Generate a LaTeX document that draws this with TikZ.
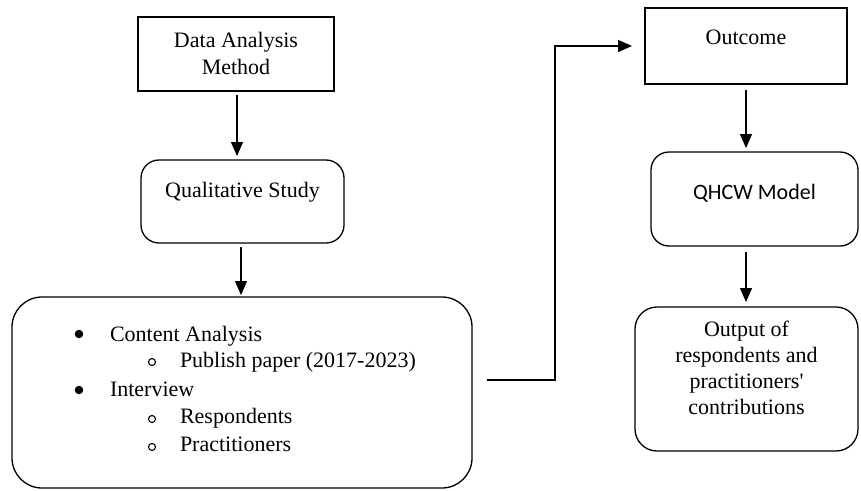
\documentclass[tikz,border=0pt]{standalone}
\usepackage{fontspec}
\setmainfont{Liberation Serif}
\newfontfamily\calfont{Carlito}
\usetikzlibrary{arrows.meta}
\begin{document}
\begin{tikzpicture}[x=1pt,y=-1pt,
  every node/.style={inner sep=0pt,outer sep=0pt},
  sqbox/.style={draw,line width=1.3pt,rectangle},
  rbox/.style={draw,line width=1.3pt,rectangle,rounded corners=18pt},
  txt/.style={font=\fontsize{22}{27}\selectfont,align=center},
  ltxt/.style={font=\fontsize{22}{27}\selectfont,anchor=base west},
  bul/.style={circle,fill=black,minimum size=8.5pt},
  hbul/.style={circle,draw,line width=1.1pt,minimum size=7pt},
  conn/.style={line width=1.3pt,-{Triangle[length=14pt,width=12pt]}}]
\useasboundingbox (0,0) rectangle (861,490);
% boxes
\node[sqbox,minimum width=196pt,minimum height=74pt] (dam) at (236,54) {};
\node[rbox,minimum width=203pt,minimum height=83pt] (qs) at (242.5,201.5) {};
\node[rbox,rounded corners=30pt,minimum width=460pt,minimum height=191pt] (big) at (242,392.5) {};
\node[sqbox,minimum width=202pt,minimum height=76pt] (oc) at (746,46) {};
\node[rbox,minimum width=207pt,minimum height=94pt] (qh) at (754.5,199) {};
\node[rbox,rounded corners=22pt,minimum width=223pt,minimum height=144pt] (out) at (746.5,379) {};
% texts
\node[txt] (damt) at (236,53) {Data Analysis\\Method};
\node[txt] (qst) at (242.5,192) {Qualitative Study};
\node[txt] (oct) at (746,37) {Outcome};
\node[txt,font=\fontsize{22}{27}\calfont] (qht) at (754.5,193) {QHCW Model};
\node[txt,font=\fontsize{22}{26}\selectfont] (outt) at (746.5,368) {Output of\\respondents and\\practitioners\textquotesingle\\contributions};
% list
\node[bul] (b1) at (79,334) {};
\node[ltxt] (l1) at (110,341) {Content Analysis};
\node[hbul] (c1) at (152,362) {};
\node[ltxt] (l2) at (180,367) {Publish paper (2017-2023)};
\node[bul] (b2) at (79,390) {};
\node[ltxt] (l3) at (110,396) {Interview};
\node[hbul] (c2) at (152,419) {};
\node[ltxt] (l4) at (180,423) {Respondents};
\node[hbul] (c3) at (152,447) {};
\node[ltxt] (l5) at (180,451) {Practitioners};
% connectors
\coordinate (k1) at (555,380);
\draw[conn,shorten <=4pt,shorten >=4pt] ([xshift=1pt]dam.south) -- ([xshift=1pt]dam.south |- qs.north);
\draw[conn,shorten <=4pt,shorten >=2pt] ([xshift=-1.5pt]qs.south) -- ([xshift=-1.5pt]qs.south |- big.north);
\draw[conn,shorten <=15pt,shorten >=13pt] (big.east |- k1) -- (k1) -- (k1 |- oc.west) -- (oc.west);
\draw[conn,shorten <=6pt,shorten >=4pt] (oc.south) -- (oc.south |- qh.north);
\draw[conn,shorten <=6pt,shorten >=5pt] (oc.south |- qh.south) -- (oc.south |- out.north);
\end{tikzpicture}
\end{document}
